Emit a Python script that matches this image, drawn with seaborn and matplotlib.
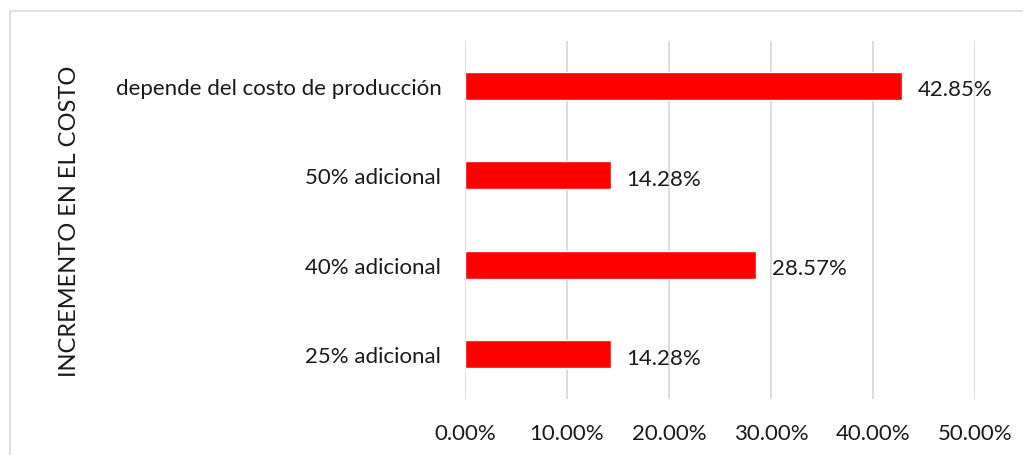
import matplotlib
matplotlib.use("Agg")
import matplotlib.pyplot as plt
import matplotlib.patches as patches
from matplotlib.ticker import PercentFormatter
import seaborn as sns
import pandas as pd

# Data
categories = ["depende del costo de producción", "50% adicional", "40% adicional", "25% adicional"]
values = [0.4285, 0.1428, 0.2857, 0.1428]
value_labels = ["42.85%", "14.28%", "28.57%", "14.28%"]
x_ticks = [0.0, 0.1, 0.2, 0.3, 0.4, 0.5]

sns.set_style("white")
plt.rcParams["font.family"] = ["Lato", "DejaVu Sans"]

df = pd.DataFrame({"cat": categories, "val": values})

fig = plt.figure(figsize=(10.23, 4.56), dpi=100)
ax = fig.add_axes([0.4545, 0.123, 0.4985, 0.785])

# Light frame around the chart area
frame = patches.Rectangle((10 / 1023, -0.05), 1.1, 1 - 12 / 456 + 0.05,
                          transform=fig.transFigure, fill=False,
                          edgecolor="#d9d9d9", linewidth=1.2)
fig.patches.append(frame)

sns.barplot(data=df, x="val", y="cat", orient="h", color="#ff0000",
            saturation=1, width=0.31, ax=ax)

for i, (v, lab) in enumerate(zip(values, value_labels)):
    ax.text(v + 0.015, i + 0.04, lab, va="center", ha="left", fontsize=16, color="#1a1a1a")

ax.set_xlim(0, 0.5)
ax.set_ylim(3.5, -0.5)
ax.set_xticks(x_ticks)
ax.xaxis.set_major_formatter(PercentFormatter(1.0, decimals=2))
ax.grid(axis="x", color="#d9d9d9", linewidth=1.3)
ax.set_axisbelow(True)
for s in ax.spines.values():
    s.set_visible(False)

ax.tick_params(axis="both", length=0, labelsize=16, colors="#1a1a1a")
ax.tick_params(axis="x", pad=17)
ax.tick_params(axis="y", pad=17)
ax.set_xlabel("")
ax.set_ylabel("INCREMENTO EN EL COSTO", fontsize=17, color="#1a1a1a", labelpad=0)
ax.yaxis.set_label_coords(-0.755, 0.5)

fig.savefig("out.png", dpi=100)
